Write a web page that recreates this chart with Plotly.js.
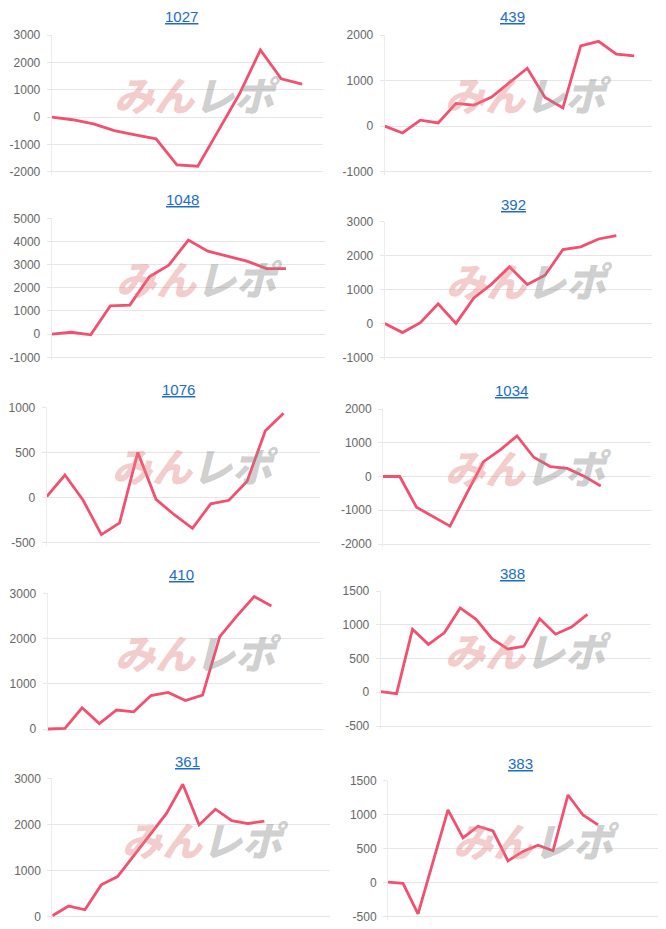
<!DOCTYPE html>
<html><head><meta charset="utf-8">
<script src="https://cdn.plot.ly/plotly-3.0.1.min.js"></script>
<style>html,body{margin:0;padding:0;background:#fff}#chart{width:666px;height:929px}</style>
</head><body><div id="chart"></div>
<script>
// ---- data ----
const titles = ['1027', '439', '1048', '392', '1076', '1034', '410', '388', '361', '383'];
const s1027 = [0, -100, -250, -500, -650, -800, -1750, -1800, -480, 850, 2450, 1400, 1200];
const s439  = [0, -150, 130, 70, 500, 460, 640, 950, 1270, 630, 400, 1760, 1860, 1580, 1540];
const s1048 = [0, 80, -30, 1220, 1250, 2470, 2980, 4060, 3580, 3380, 3150, 2830, 2830];
const s392  = [0, -270, 20, 580, 0, 750, 1160, 1670, 1150, 1420, 2180, 2260, 2490, 2590];
const s1076 = [10, 250, -30, -410, -280, 500, -20, -190, -340, -70, -30, 180, 740, 935];
const s1034 = [0, 0, -910, -1190, -1470, -500, 440, 790, 1200, 570, 290, 240, 10, -280];
const s410  = [0, 15, 470, 120, 420, 380, 740, 810, 630, 750, 2040, 2500, 2930, 2720];
const s388  = [10, -20, 935, 710, 880, 1250, 1080, 795, 640, 680, 1090, 860, 965, 1155];
const s361  = [20, 230, 150, 690, 870, 1330, 1790, 2240, 2870, 1990, 2330, 2080, 2020, 2070];
const s383  = [10, -10, -460, 300, 1070, 660, 830, 760, 320, 460, 550, 470, 1290, 995, 850];
const series = [s1027, s439, s1048, s392, s1076, s1034, s410, s388, s361, s383];
const slots = [13, 15, 14, 15, 15, 16, 16, 17, 17, 18];
const yMin  = [-2000, -1000, -1000, -1000, -500, -2000, 0, -500, 0, -500];
const yMax  = [3000, 2000, 5000, 3000, 1000, 2000, 3000, 1500, 3000, 1500];
const yStep = [1000, 1000, 1000, 1000, 500, 1000, 1000, 500, 1000, 500];

// ---- layout geometry (pixels) ----
const W = 666, H = 929, PAD = 3;
const boxes = [
  {l: 51.7, r: 323,   t: 35,    b: 171.7, tx: 181, ty: 17,    wx: 197, wy: 94},
  {l: 384.7, r: 652,  t: 35,    b: 171.7, tx: 512, ty: 17,    wx: 528, wy: 94},
  {l: 51.7, r: 325,   t: 218.3, b: 357.3, tx: 182, ty: 200,   wx: 199, wy: 278},
  {l: 384.7, r: 652,  t: 221.7, b: 357.3, tx: 513, ty: 204,   wx: 529, wy: 280},
  {l: 46.7, r: 320,   t: 407.3, b: 542.7, tx: 178, ty: 389.5, wx: 195, wy: 465},
  {l: 383,  r: 651,   t: 409,   b: 544,   tx: 511, ty: 390.5, wx: 528, wy: 467},
  {l: 47.7, r: 323,   t: 593.3, b: 729,   tx: 181, ty: 574,   wx: 198, wy: 652},
  {l: 380.7, r: 651,  t: 591,   b: 726,   tx: 512, ty: 573.7, wx: 528, wy: 650},
  {l: 52.3, r: 329.6, t: 778.3, b: 916.7, tx: 187, ty: 761.7, wx: 205, wy: 839},
  {l: 388,  r: 658,   t: 780.7, b: 916.7, tx: 520, ty: 763.3, wx: 536, wy: 840}
];

const LINE = '#f2506e';
const GRID = '#e6e6e6';
const traces = [];
const layout = {
  width: W, height: H,
  margin: {l: 0, r: 0, t: 0, b: 0},
  paper_bgcolor: '#ffffff', plot_bgcolor: 'rgba(0,0,0,0)',
  showlegend: false,
  annotations: []
};

series.forEach((vals, i) => {
  const bx = boxes[i];
  const n = i === 0 ? '' : String(i + 1);
  const pxPerUnit = (bx.b - bx.t) / (yMax[i] - yMin[i]);
  const lo = yMin[i] - PAD / pxPerUnit;
  const tv = [];
  for (let v = yMin[i]; v <= yMax[i]; v += yStep[i]) tv.push(v);
  traces.push({
    type: 'scatter', mode: 'lines',
    x: vals.map((_, k) => k), y: vals,
    xaxis: 'x' + n, yaxis: 'y' + n,
    line: {color: LINE, width: 2.8},
    hoverinfo: 'skip'
  });
  layout['xaxis' + n] = {
    domain: [bx.l / W, bx.r / W], range: [0, slots[i]],
    showgrid: false, zeroline: false, showticklabels: false, ticks: '',
    showline: false, anchor: 'y' + n, fixedrange: true
  };
  layout['yaxis' + n] = {
    domain: [1 - (bx.b + PAD) / H, 1 - bx.t / H], range: [lo, yMax[i]],
    tickmode: 'array', tickvals: tv, ticktext: tv.map(v => String(v)),
    showgrid: true, gridcolor: GRID, gridwidth: 1, zeroline: false,
    showline: true, linecolor: '#ececec', linewidth: 1,
    ticks: 'outside', ticklen: 4, tickcolor: GRID, ticklabelstandoff: 4,
    tickfont: {family: 'Liberation Sans, Arial, sans-serif', size: 12, color: '#666666'},
    anchor: 'x' + n, fixedrange: true
  };
  layout.annotations.push({
    xref: 'paper', yref: 'paper', x: bx.tx / W, y: 1 - bx.ty / H,
    xanchor: 'center', yanchor: 'middle', showarrow: false,
    text: titles[i],
    font: {family: 'Liberation Sans, Arial, sans-serif', size: 15, color: '#1a6dcc', lineposition: 'under'}
  });
  layout.annotations.push({
    xref: 'paper', yref: 'paper', x: bx.wx / W, y: 1 - bx.wy / H,
    xanchor: 'center', yanchor: 'middle', showarrow: false,
    text: '<i><span style="color:rgba(226,130,130,0.42)">みん</span><span style="color:rgba(140,140,140,0.42)">レポ</span></i>',
    font: {family: 'Noto Sans CJK JP, sans-serif', size: 40, weight: 900}
  });
});

Plotly.newPlot('chart', traces, layout, {staticPlot: true, displayModeBar: false});
</script>
</body></html>
